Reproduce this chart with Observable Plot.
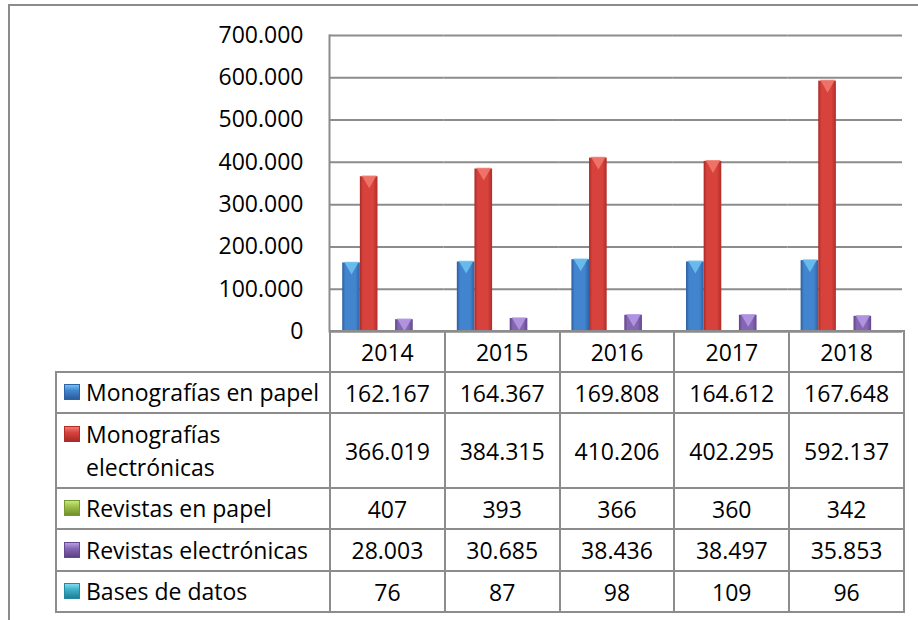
<!DOCTYPE html>
<html><head><meta charset="utf-8">
<script src="https://cdn.jsdelivr.net/npm/d3@7"></script>
<script src="https://cdn.jsdelivr.net/npm/@observablehq/plot@0.6"></script>
<style>
html,body{margin:0;padding:0;background:#fff;}
#wrap{position:relative;width:918px;height:620px;overflow:hidden;font-family:"Open Sans",Lato,sans-serif;}
#frame{position:absolute;left:8px;top:4px;width:930px;height:640px;border-top:2px solid #8c8c8c;border-left:2px solid #8c8c8c;}
#chart{position:absolute;left:0;top:0;}
#tbl{position:absolute;left:55px;top:330px;border-collapse:collapse;table-layout:fixed;width:848px;font-size:23px;color:#000;}
#tbl td{border:2px solid #8c8c8c;text-align:center;padding:0;white-space:nowrap;}
#tbl td.blank{border-top:none;border-left:none;border-bottom:2px solid #8c8c8c;}
#tbl td.lab{text-align:left;}
.lw{display:flex;align-items:flex-start;padding-left:7px;}
.sw{width:16px;height:16px;margin-top:8px;margin-right:6px;flex:none;box-sizing:border-box;}
.lt{line-height:33px;white-space:normal;}
</style>
</head><body>
<div id="wrap"><div id="frame"></div><div id="chart"></div></div>
<script>
const years = ["2014","2015","2016","2017","2018"];
const series = ["Monografías en papel","Monografías electrónicas","Revistas en papel","Revistas electrónicas","Bases de datos"];
const seriesLabels = ["Monografías en papel","Monografías<br>electrónicas","Revistas en papel","Revistas electrónicas","Bases de datos"];
const monoPapel = [162167,164367,169808,164612,167648];
const monoElec  = [366019,384315,410206,402295,592137];
const revPapel  = [407,393,366,360,342];
const revElec   = [28003,30685,38436,38497,35853];
const bases     = [76,87,98,109,96];
const yTicks = [0,100000,200000,300000,400000,500000,600000,700000];

const values = [monoPapel, monoElec, revPapel, revElec, bases];
const colors = [
  ["#2a5d9c","#4384cf","#2d63a6","#6ec3f0"],
  ["#a82a26","#d8423c","#b02d29","#f27a70"],
  ["#6f8f2c","#9dc04a","#769a30","#c8e67a"],
  ["#5e4387","#8566b3","#644890","#b79be6"],
  ["#227f95","#3eb0cb","#2689a0","#7fdcef"]
];
const ids = series.map((s,i)=>"grad"+i);

const loc = d3.formatLocale({decimal:",", thousands:".", grouping:[3], currency:["","€"]});
const fmt = loc.format(",d");

const rows = [];
years.forEach((yr,i)=>series.forEach((s,j)=>rows.push({year:yr, series:s, value:values[j][i], cap:colors[j][3]})));

const plot = Plot.plot({
  width:918, height:620,
  marginLeft:329, marginRight:16, marginTop:35, marginBottom:289,
  style:{fontFamily:"'Open Sans', Lato, sans-serif", fontSize:"23px", background:"transparent", color:"#000", overflow:"visible"},
  fx:{domain:years, padding:0, axis:null, round:false},
  x:{domain:series, paddingInner:0, paddingOuter:0.75, axis:null, round:false},
  y:{domain:[0,700000], axis:null},
  color:{domain:series, range:ids.map(id=>`url(#${id})`)},
  marks:[
    Plot.gridY(yTicks, {stroke:"#8c8c8c", strokeOpacity:1, strokeWidth:2}),
    Plot.axisY(yTicks, {tickSize:0, tickPadding:26, tickFormat:fmt, fontSize:23, fill:"#000", label:null}),
    Plot.frame({anchor:"left", fx:years[0], stroke:"#8c8c8c", strokeWidth:2}),
    Plot.barY(rows, {fx:"year", x:"series", y:"value", fill:"series"}),
    Plot.dot(rows.filter(d=>d.value>5000), {fx:"year", x:"series", y:"value", symbol:"triangle", rotate:180, r:5.5, dy:3, fill:"cap", fillOpacity:0.85, stroke:null}),
    Plot.ruleY([0], {stroke:"#8c8c8c", strokeWidth:2})
  ]
});

// gradient definitions for the bevelled bars
const ns = "http://www.w3.org/2000/svg";
const defs = document.createElementNS(ns,"defs");
colors.forEach((c,i)=>{
  const g = document.createElementNS(ns,"linearGradient");
  g.setAttribute("id", ids[i]);
  g.setAttribute("x1","0"); g.setAttribute("x2","1"); g.setAttribute("y1","0"); g.setAttribute("y2","0");
  [[0,c[0]],[0.18,c[1]],[0.75,c[1]],[1,c[2]]].forEach(([o,col])=>{
    const s = document.createElementNS(ns,"stop");
    s.setAttribute("offset", o); s.setAttribute("stop-color", col);
    g.appendChild(s);
  });
  defs.appendChild(g);
});
plot.insertBefore(defs, plot.firstChild);
document.getElementById("chart").appendChild(plot);

// data table below the chart
const tbl = document.createElement("table");
tbl.id = "tbl";
const cg = document.createElement("colgroup");
cg.innerHTML = `<col style="width:274px">` + years.map(()=>`<col style="width:114.8px">`).join("");
tbl.appendChild(cg);
const rowH = [41,41,75,41,42,41];
let tr = document.createElement("tr");
tr.style.height = rowH[0]+"px";
tr.innerHTML = `<td class="blank"></td>` + years.map(y=>`<td>${y}</td>`).join("");
tbl.appendChild(tr);
series.forEach((s,j)=>{
  const r = document.createElement("tr");
  r.style.height = rowH[j+1]+"px";
  const c = colors[j];
  const sw = `<span class="sw" style="background:linear-gradient(to bottom,${c[3]} 0%,${c[1]} 40%,${c[0]} 100%);border:1px solid ${c[2]}"></span>`;
  r.innerHTML = `<td class="lab"><div class="lw">${sw}<span class="lt">${seriesLabels[j]}</span></div></td>` +
    values[j].map(v=>`<td>${fmt(v)}</td>`).join("");
  tbl.appendChild(r);
});
document.getElementById("wrap").appendChild(tbl);
</script>
</body></html>
